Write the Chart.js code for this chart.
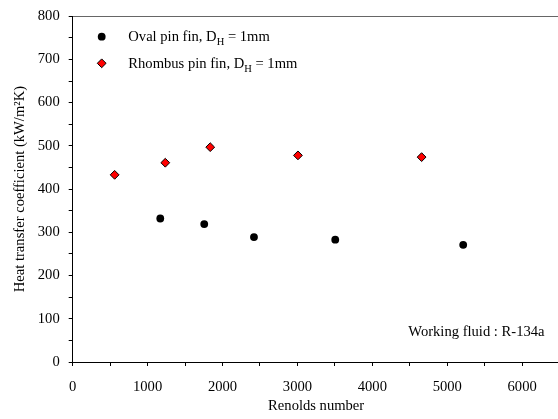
<!DOCTYPE html>
<html>
<head>
<meta charset="utf-8">
<script src="https://cdn.jsdelivr.net/npm/chart.js@4.4.0/dist/chart.umd.min.js"></script>
<style>
  html, body { margin: 0; padding: 0; background: #fff; overflow: hidden; }
  #chart { display: block; }
</style>
</head>
<body>
<canvas id="chart" width="565" height="419"></canvas>
<script>
// data
const ovalRe = [1169, 1756, 2420, 3505, 5213];
const ovalH = [332, 319, 289, 283, 271];
const rhombusRe = [560, 1236, 1836, 3007, 4658];
const rhombusH = [433, 461, 497, 478, 474];

const xMin = 0, xMax = 6500, xStep = 500, xLabelStep = 1000;
const yMin = 0, yMax = 800, yStep = 50, yLabelStep = 100;

const legendLabels = [
  ['Oval pin fin, D', 'H', ' = 1mm'],
  ['Rhombus pin fin, D', 'H', ' = 1mm']
];
const noteText = 'Working fluid : R-134a';

const FONT = 'Liberation Serif';
const FS = 14.6;
Chart.defaults.font.family = FONT;
Chart.defaults.font.size = FS;
Chart.defaults.color = '#000';

function toPoints(xs, ys) {
  return xs.map((x, i) => ({ x: x, y: ys[i] }));
}

// legend with subscripts + note text
const extrasPlugin = {
  id: 'extras',
  afterDraw(chart) {
    const ctx = chart.ctx;
    const rows = [36.7, 63.3];
    ctx.save();
    chart.data.datasets.forEach((ds, i) => {
      const y = rows[i];
      ctx.fillStyle = ds.backgroundColor;
      ctx.strokeStyle = ds.borderColor;
      ctx.lineWidth = ds.borderWidth;
      Chart.helpers.drawPoint(ctx, {
        pointStyle: ds.pointStyle,
        radius: ds.pointRadius,
        borderWidth: ds.borderWidth,
        rotation: 0
      }, 101.7, y);

      const parts = legendLabels[i];
      let tx = 128.3;
      const base = y + 4.2;
      ctx.fillStyle = '#000';
      ctx.textBaseline = 'alphabetic';
      ctx.textAlign = 'left';
      ctx.font = FS + 'px "' + FONT + '"';
      ctx.fillText(parts[0], tx, base);
      tx += ctx.measureText(parts[0]).width;
      ctx.font = '10.5px "' + FONT + '"';
      ctx.fillText(parts[1], tx, base + 4.3);
      tx += ctx.measureText(parts[1]).width;
      ctx.font = FS + 'px "' + FONT + '"';
      ctx.fillText(parts[2], tx, base);
    });

    ctx.font = FS + 'px "' + FONT + '"';
    ctx.fillStyle = '#000';
    ctx.textAlign = 'left';
    ctx.textBaseline = 'alphabetic';
    ctx.fillText(noteText, 408.3, 336);
    ctx.restore();
  }
};

new Chart(document.getElementById('chart'), {
  type: 'scatter',
  data: {
    datasets: [
      {
        label: 'Oval pin fin, DH = 1mm',
        data: toPoints(ovalRe, ovalH),
        pointStyle: 'circle',
        pointRadius: 3.9,
        backgroundColor: '#000',
        borderColor: '#000',
        borderWidth: 0
      },
      {
        label: 'Rhombus pin fin, DH = 1mm',
        data: toPoints(rhombusRe, rhombusH),
        pointStyle: 'rectRot',
        pointRadius: 4.4,
        backgroundColor: '#ff0000',
        borderColor: '#000',
        borderWidth: 1
      }
    ]
  },
  options: {
    responsive: false,
    animation: false,
    events: [],
    layout: { padding: { left: 0, top: 16.2, right: 2.6, bottom: 0 } },
    plugins: {
      legend: { display: false },
      tooltip: { enabled: false }
    },
    scales: {
      x: {
        type: 'linear',
        min: xMin,
        max: xMax,
        afterFit(s) {
          s.height = 57;
          s.paddingLeft = 0;
          s.paddingRight = 0;
        },
        border: { display: true, color: '#000', width: 1 },
        grid: { drawOnChartArea: false, tickLength: 4, tickColor: '#000' },
        ticks: {
          stepSize: xStep,
          autoSkip: false,
          maxRotation: 0,
          padding: 12.5,
          callback: v => (v % xLabelStep === 0 ? v : '')
        },
        title: {
          display: true,
          text: 'Renolds number',
          padding: { top: 0, bottom: 4 }
        }
      },
      y: {
        type: 'linear',
        min: yMin,
        max: yMax,
        afterFit(s) {
          s.width = 72.7;
          s.paddingTop = 0;
          s.paddingBottom = 0;
        },
        border: { display: true, color: '#000', width: 1 },
        grid: {
          drawOnChartArea: true,
          color: c => (c.tick && c.tick.value === yMax ? '#666' : 'rgba(0,0,0,0)'),
          tickLength: 4,
          tickColor: '#000'
        },
        ticks: {
          stepSize: yStep,
          autoSkip: false,
          padding: 9,
          callback: v => (v % yLabelStep === 0 ? v : '')
        },
        title: {
          display: true,
          text: 'Heat transfer coefficient (kW/m²K)',
          padding: { top: 11, bottom: 0 }
        }
      }
    }
  },
  plugins: [extrasPlugin]
});
</script>
</body>
</html>
